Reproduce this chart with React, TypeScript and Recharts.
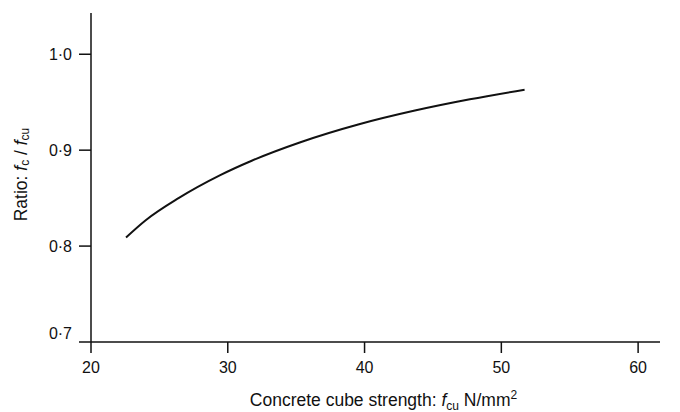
import { LineChart, Line, XAxis, YAxis, Label } from "recharts";

// values
const strength = [22.56, 24.0, 26.4, 29.45, 31.75, 35.26, 39.6, 43.6, 47.7, 51.7];
const ratio = [0.809, 0.827, 0.85, 0.874, 0.889, 0.908, 0.927, 0.941, 0.953, 0.963];

const xTicks = [20, 30, 40, 50, 60];
const yTicks = [0.7, 0.8, 0.9, 1.0];

const data = strength.map((s, i) => ({ fcu: s, ratio: ratio[i] }));

const FONT = "'Liberation Sans', Arial, Helvetica, sans-serif";
const INK = "#111";

function formatRatio(v: number) {
  return v.toFixed(1).replace(".", "\u00b7");
}

function YTick(props: any) {
  const { x, y, payload } = props;
  // the bottom label sits a little above the axis in the original
  const lift = payload.value === 0.7 ? -9 : 0;
  return (
    <text
      x={x}
      y={y + lift}
      textAnchor="end"
      dominantBaseline="central"
      fontSize={16}
      fontFamily={FONT}
      fill={INK}
    >
      {formatRatio(payload.value)}
    </text>
  );
}

function YTitle(props: any) {
  const { viewBox } = props;
  const cx = viewBox.x + 21;
  const cy = viewBox.y + viewBox.height / 2 - 3;
  return (
    <text
      x={cx}
      y={cy}
      transform={`rotate(-90, ${cx}, ${cy})`}
      textAnchor="middle"
      dominantBaseline="central"
      fontSize={17.5}
      fontFamily={FONT}
      fill={INK}
    >
      Ratio: <tspan fontStyle="italic">f</tspan>
      <tspan dy={4} fontSize={12}>c</tspan>
      <tspan dy={-4}> / </tspan>
      <tspan fontStyle="italic">f</tspan>
      <tspan dy={4} fontSize={12}>cu</tspan>
    </text>
  );
}

function XTitle(props: any) {
  const { viewBox } = props;
  return (
    <text
      x={viewBox.x + viewBox.width / 2 + 8}
      y={viewBox.y + 64}
      textAnchor="middle"
      fontSize={17.5}
      fontFamily={FONT}
      fill={INK}
    >
      Concrete cube strength: <tspan fontStyle="italic">f</tspan>
      <tspan dy={4} fontSize={12}>cu</tspan>
      <tspan dy={-4}> N/mm</tspan>
      <tspan dy={-7} fontSize={12}>2</tspan>
    </text>
  );
}

export default function App() {
  return (
    <div style={{ position: "absolute", left: 0, top: 0, background: "#fff" }}>
      <LineChart
        width={680}
        height={412}
        data={data}
        margin={{ top: 13, right: 20, bottom: 0, left: 0 }}
      >
        <XAxis
          dataKey="fcu"
          type="number"
          domain={[20, 61.6]}
          ticks={xTicks}
          height={70}
          tickSize={11}
          tickMargin={9}
          stroke={INK}
          strokeWidth={1.5}
          tick={{ fontSize: 16, fontFamily: FONT, fill: INK }}
          tickLine={{ stroke: INK, strokeWidth: 1.5 }}
        >
          <Label content={XTitle} />
        </XAxis>
        <YAxis
          dataKey="ratio"
          type="number"
          domain={[0.7, 1.043]}
          ticks={yTicks}
          width={91}
          tickSize={12}
          tickMargin={7}
          stroke={INK}
          strokeWidth={1.5}
          tick={YTick}
          tickLine={{ stroke: INK, strokeWidth: 1.5 }}
        >
          <Label content={YTitle} />
        </YAxis>
        <Line
          type="monotone"
          dataKey="ratio"
          stroke={INK}
          strokeWidth={2}
          dot={false}
          isAnimationActive={false}
        />
      </LineChart>
    </div>
  );
}
